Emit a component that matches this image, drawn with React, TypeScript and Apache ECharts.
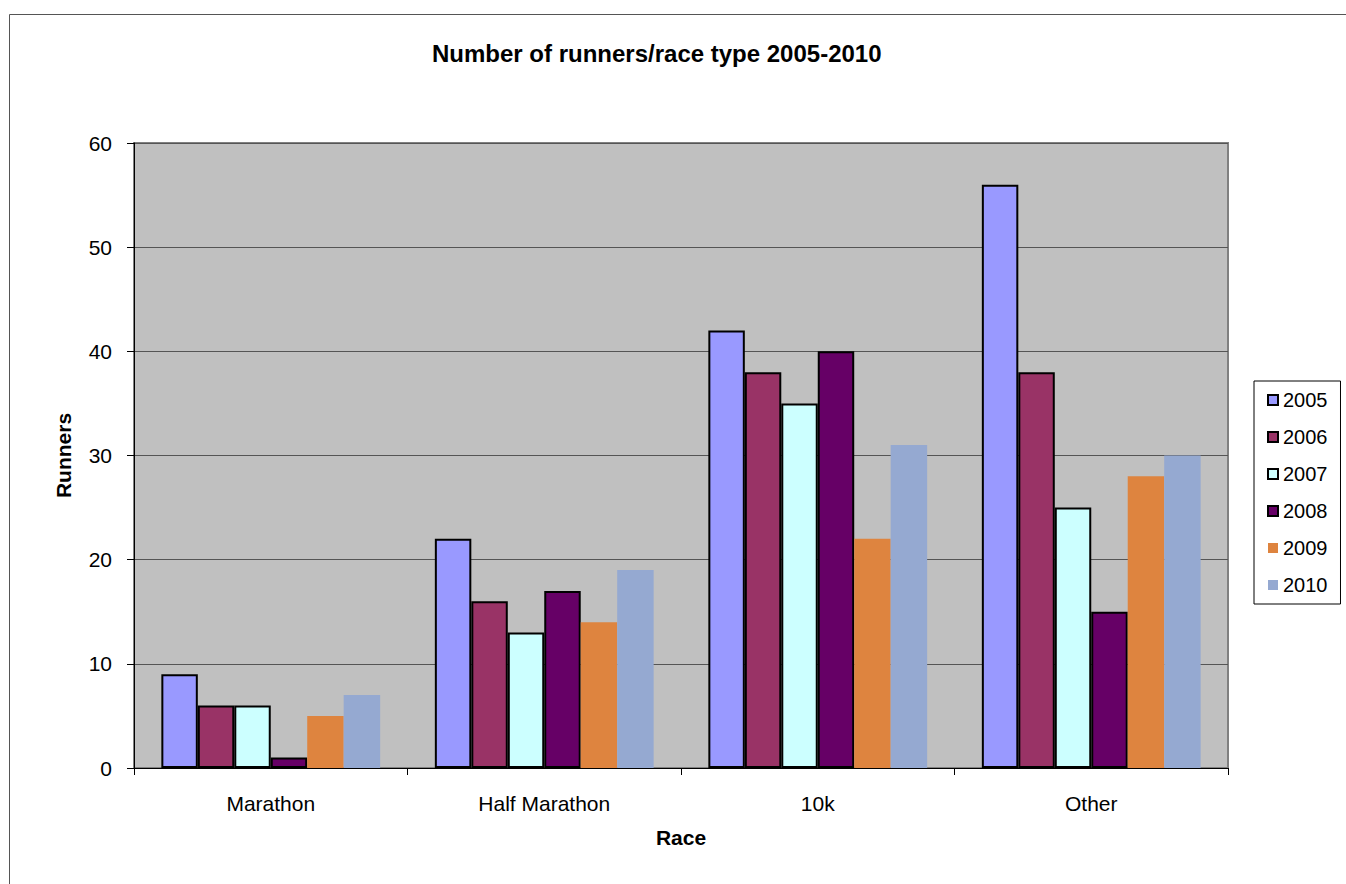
import React, { useEffect, useRef } from "react";
import * as echarts from "echarts";

const categories = ["Marathon", "Half Marathon", "10k", "Other"];
const years = ["2005", "2006", "2007", "2008", "2009", "2010"];
const values2005 = [9, 22, 42, 56];
const values2006 = [6, 16, 38, 38];
const values2007 = [6, 13, 35, 25];
const values2008 = [1, 17, 40, 15];
const values2009 = [5, 14, 22, 28];
const values2010 = [7, 19, 31, 30];
const seriesValues = [values2005, values2006, values2007, values2008, values2009, values2010];
const colors = ["#9999FF", "#993366", "#CCFFFF", "#660066", "#DE843F", "#95A9D1"];
const bordered = [true, true, true, true, false, false];
const yTicks = [0, 10, 20, 30, 40, 50, 60];

const FONT = "'Liberation Sans', Arial, sans-serif";

export default function App() {
  const ref = useRef<HTMLDivElement>(null);
  useEffect(() => {
    if (!ref.current) return;
    const chart = echarts.init(ref.current, undefined, { renderer: "svg" });
    chart.setOption({
      animation: false,
      backgroundColor: "#ffffff",
      textStyle: { fontFamily: FONT },
      title: {
        text: "Number of runners/race type 2005-2010",
        left: 432,
        top: 41,
        padding: 0,
        textStyle: { fontFamily: FONT, fontSize: 24, fontWeight: "bold", color: "#000" },
      },
      graphic: [
        {
          type: "rect",
          shape: { x: 9.5, y: 14.5, width: 1400, height: 1000 },
          style: { fill: "none", stroke: "#555", lineWidth: 1 },
          silent: true,
          z: -10,
        },
      ],
      legend: {
        orient: "vertical",
        left: 1254,
        top: 381,
        padding: [9, 13, 9, 13],
        itemWidth: 10,
        itemHeight: 10,
        itemGap: 17,
        icon: "rect",
        borderColor: "#000",
        borderWidth: 1,
        data: years,
        textStyle: { fontFamily: FONT, fontSize: 20, color: "#000", lineHeight: 20 },
      },
      grid: {
        left: 134,
        top: 143,
        right: 118,
        bottom: 116,
        show: true,
        backgroundColor: "#C0C0C0",
        borderColor: "#808080",
        borderWidth: 2,
      },
      xAxis: {
        type: "category",
        data: categories,
        name: "Race",
        nameLocation: "middle",
        nameGap: 59,
        nameTextStyle: { fontFamily: FONT, fontSize: 21, fontWeight: "bold", color: "#000" },
        axisLine: { show: true, lineStyle: { color: "#000", width: 1 } },
        axisTick: { show: true, interval: 0, length: 7, lineStyle: { color: "#000" } },
        axisLabel: { fontFamily: FONT, fontSize: 21, color: "#000", margin: 25, interval: 0 },
        splitLine: { show: false },
      },
      yAxis: {
        type: "value",
        min: yTicks[0],
        max: yTicks[yTicks.length - 1],
        interval: 10,
        name: "Runners",
        nameLocation: "middle",
        nameGap: 60,
        nameTextStyle: { fontFamily: FONT, fontSize: 21, fontWeight: "bold", color: "#000" },
        axisLine: { show: true, lineStyle: { color: "#000", width: 1 } },
        axisTick: { show: true, length: 7, lineStyle: { color: "#000" } },
        axisLabel: { fontFamily: FONT, fontSize: 21, color: "#000", margin: 22 },
        splitLine: { show: true, lineStyle: { color: "#555", width: 1 } },
      },
      series: years.map((y, i) => ({
        name: y,
        type: "bar",
        data: seriesValues[i],
        barGap: "0%",
        barCategoryGap: "20%",
        itemStyle: {
          color: colors[i],
          borderColor: bordered[i] ? "#000" : colors[i],
          borderWidth: bordered[i] ? 2 : 0,
        },
      })),
    });
    return () => chart.dispose();
  }, []);
  return (
    <div
      ref={ref}
      style={{ position: "absolute", left: 0, top: 0, width: 1346, height: 884 }}
    />
  );
}
